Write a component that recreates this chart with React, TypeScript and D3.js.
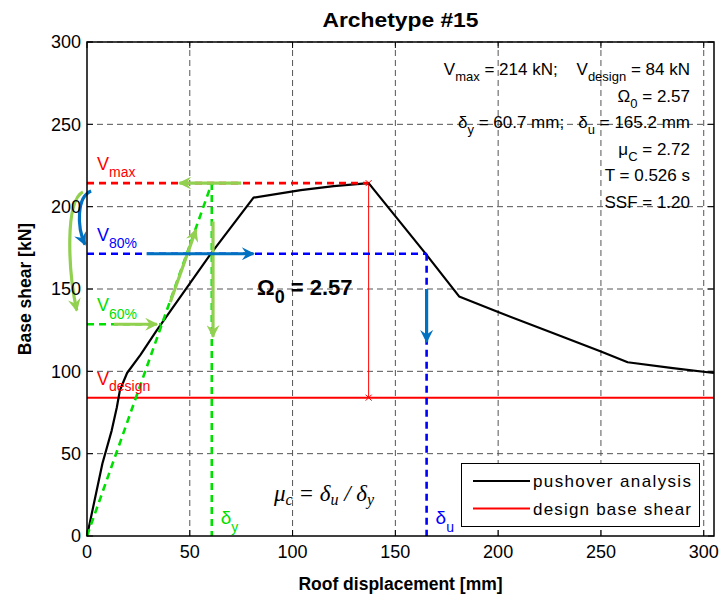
import React, { useRef, useEffect } from 'react';
import * as d3 from 'd3';

// pushover curve
const dispMm = [0, 7.5, 12, 14.5, 16, 19.5, 26, 34, 60, 81, 104, 120, 137, 165, 181, 200, 225, 250, 263, 285, 305];
const shearKn = [0, 44, 64, 78, 88.5, 99, 110, 125, 171, 205.5, 210, 212.5, 214.3, 171, 145.5, 136, 124, 112, 105.5, 102, 99];

const xTicks = [0, 50, 100, 150, 200, 250, 300];
const yTicks = [0, 50, 100, 150, 200, 250, 300];

const vMax = 214.3;
const vDesign = 84;
const v80 = 171.4;
const v60 = 128.6;
const deltaY = 60.7;
const deltaU = 165.2;
const xPeak = 137;

const legendNames = ['pushover analysis', 'design base shear'];
const legendColors = ['#000000', '#ff0000'];

const infoLines = [
  [['V', 0], ['max', 1], [' = 214 kN;    V', 0], ['design', 1], [' = 84 kN', 0]],
  [['\u03A9', 0], ['0', 1], [' = 2.57', 0]],
  [['\u03B4', 0], ['y', 1], [' = 60.7 mm;   \u03B4', 0], ['u', 1], [' = 165.2 mm', 0]],
  [['\u03BC', 0], ['C', 1], [' = 2.72', 0]],
  [['T = 0.526 s', 0]],
  [['SSF = 1.20', 0]],
];

// annotation arrows, in data units
const greenArrows = [
  [13, v60, 34, v60],
  [40.5, 142, 53, 186],
  [75, vMax, 45, vMax],
  [61.3, 191, 61.3, 121],
];
const blueArrows = [
  [29, v80, 81, v80],
  [deltaU, 150, deltaU, 118],
];

const GREEN_ARROW = '#92d050';
const BLUE_ARROW = '#0070c0';
const FONT = 'Liberation Sans, Arial, Helvetica, sans-serif';

const ChartComponent = () => {
  const svgRef = useRef<SVGSVGElement>(null);

  useEffect(() => {
    const width = 719;
    const height = 596;
    const margin = { top: 42, right: 5, bottom: 60, left: 87 };

    const svg = d3.select(svgRef.current)
      .attr('width', width)
      .attr('height', height);
    svg.selectAll('*').remove();

    const x = d3.scaleLinear().domain([0, 305]).range([margin.left, width - margin.right]);
    const y = d3.scaleLinear().domain([0, 300]).range([height - margin.bottom, margin.top]);

    const defs = svg.append('defs');
    const addMarker = (id: string, color: string) => {
      defs.append('marker')
        .attr('id', id)
        .attr('viewBox', '0 0 10 10')
        .attr('refX', 9)
        .attr('refY', 5)
        .attr('markerWidth', 15)
        .attr('markerHeight', 13)
        .attr('markerUnits', 'userSpaceOnUse')
        .attr('orient', 'auto')
        .append('path')
        .attr('d', 'M0,0 L10,5 L0,10 L3.5,5 Z')
        .attr('fill', color);
    };
    addMarker('headGreen', GREEN_ARROW);
    addMarker('headBlue', BLUE_ARROW);

    svg.append('rect').attr('width', width).attr('height', height).attr('fill', '#fff');

    // grid
    const grid = svg.append('g').attr('stroke', '#555').attr('stroke-width', 1).attr('stroke-dasharray', '6,4');
    xTicks.filter(t => t > 0).forEach(t => {
      grid.append('line').attr('x1', x(t)).attr('x2', x(t)).attr('y1', y(0)).attr('y2', y(300));
    });
    yTicks.filter(t => t > 0).forEach(t => {
      grid.append('line').attr('x1', x(0)).attr('x2', x(305)).attr('y1', y(t)).attr('y2', y(t));
    });

    // design base shear
    svg.append('line')
      .attr('x1', x(0)).attr('x2', x(305)).attr('y1', y(vDesign)).attr('y2', y(vDesign))
      .attr('stroke', '#ff0000').attr('stroke-width', 2);

    // overstrength marker line
    svg.append('line')
      .attr('x1', x(xPeak)).attr('x2', x(xPeak)).attr('y1', y(vMax)).attr('y2', y(vDesign))
      .attr('stroke', '#ff0000').attr('stroke-width', 1);
    [vMax, vDesign].forEach(v => {
      const cx = x(xPeak), cy = y(v);
      svg.append('path')
        .attr('d', `M${cx - 3},${cy - 3}L${cx + 3},${cy + 3}M${cx - 3},${cy + 3}L${cx + 3},${cy - 3}`)
        .attr('stroke', '#ff0000').attr('stroke-width', 1);
    });

    // pushover curve
    const line = d3.line<number>().x((d, i) => x(dispMm[i])).y(d => y(d));
    svg.append('path')
      .datum(shearKn)
      .attr('d', line)
      .attr('fill', 'none')
      .attr('stroke', '#000')
      .attr('stroke-width', 2.2)
      .attr('stroke-linejoin', 'round');

    // dashed construction lines
    const dashed = (x1: number, y1: number, x2: number, y2: number, color: string) => {
      svg.append('line')
        .attr('x1', x(x1)).attr('y1', y(y1)).attr('x2', x(x2)).attr('y2', y(y2))
        .attr('stroke', color).attr('stroke-width', 2.6).attr('stroke-dasharray', '7,5');
    };
    dashed(0, vMax, xPeak, vMax, '#ff0000');
    dashed(0, v80, deltaU, v80, '#0000ff');
    dashed(deltaU, v80, deltaU, 0, '#0000ff');
    dashed(0, v60, 36, v60, '#00e000');
    dashed(0, 0, deltaY, vMax, '#00e000');
    dashed(deltaY, vMax, deltaY, 0, '#00e000');

    // arrows
    const arrow = (a: number[], color: string, head: string) => {
      svg.append('line')
        .attr('x1', x(a[0])).attr('y1', y(a[1])).attr('x2', x(a[2])).attr('y2', y(a[3]))
        .attr('stroke', color).attr('stroke-width', 3.2)
        .attr('marker-end', `url(#${head})`);
    };
    greenArrows.forEach(a => arrow(a, GREEN_ARROW, 'headGreen'));
    blueArrows.forEach(a => arrow(a, BLUE_ARROW, 'headBlue'));

    const curve = (p: number[][], color: string, head: string) => {
      const path = d3.path();
      path.moveTo(x(p[0][0]), y(p[0][1]));
      path.bezierCurveTo(x(p[1][0]), y(p[1][1]), x(p[2][0]), y(p[2][1]), x(p[3][0]), y(p[3][1]));
      svg.append('path')
        .attr('d', path.toString())
        .attr('fill', 'none')
        .attr('stroke', color).attr('stroke-width', 3.2)
        .attr('marker-end', `url(#${head})`);
    };
    curve([[-2, 209], [-11, 203], [-9, 160], [-5, 137]], GREEN_ARROW, 'headGreen');
    curve([[2, 209.5], [-5, 206], [-5, 188], [-1, 177]], BLUE_ARROW, 'headBlue');

    // axes frame and ticks
    svg.append('rect')
      .attr('x', x(0)).attr('y', y(300))
      .attr('width', x(305) - x(0)).attr('height', y(0) - y(300))
      .attr('fill', 'none').attr('stroke', '#000').attr('stroke-width', 1.5);
    const ticks = svg.append('g').attr('stroke', '#000').attr('stroke-width', 1);
    xTicks.forEach(t => {
      ticks.append('line').attr('x1', x(t)).attr('x2', x(t)).attr('y1', y(0)).attr('y2', y(0) - 6);
      ticks.append('line').attr('x1', x(t)).attr('x2', x(t)).attr('y1', y(300)).attr('y2', y(300) + 6);
    });
    yTicks.forEach(t => {
      ticks.append('line').attr('x1', x(0)).attr('x2', x(0) + 6).attr('y1', y(t)).attr('y2', y(t));
      ticks.append('line').attr('x1', x(305)).attr('x2', x(305) - 6).attr('y1', y(t)).attr('y2', y(t));
    });

    const labels = svg.append('g').attr('font-family', FONT).attr('font-size', 18).attr('fill', '#000');
    xTicks.forEach(t => {
      labels.append('text').attr('x', x(t)).attr('y', y(0) + 22).attr('text-anchor', 'middle').text(t);
    });
    yTicks.forEach(t => {
      labels.append('text').attr('x', x(0) - 6).attr('y', y(t)).attr('dy', '0.35em').attr('text-anchor', 'end').text(t);
    });

    // titles
    svg.append('text')
      .attr('x', (x(0) + x(305)) / 2).attr('y', 27)
      .attr('text-anchor', 'middle').attr('font-family', FONT).attr('font-weight', 'bold').attr('font-size', 21)
      .attr('textLength', 156).attr('lengthAdjust', 'spacingAndGlyphs')
      .text('Archetype #15');
    svg.append('text')
      .attr('x', (x(0) + x(305)) / 2).attr('y', 590)
      .attr('text-anchor', 'middle').attr('font-family', FONT).attr('font-weight', 'bold').attr('font-size', 17.5)
      .text('Roof displacement [mm]');
    svg.append('text')
      .attr('transform', `translate(31,${(y(0) + y(300)) / 2}) rotate(-90)`)
      .attr('text-anchor', 'middle').attr('font-family', FONT).attr('font-weight', 'bold').attr('font-size', 17.5)
      .text('Base shear [kN]');

    // rich text helper: parts of [text, isSub]
    const rich = (px: number, py: number, parts: any[], opts: any) => {
      const t = svg.append('text')
        .attr('x', px).attr('y', py)
        .attr('font-family', opts.family || FONT)
        .attr('font-size', opts.size)
        .attr('fill', opts.color || '#000')
        .attr('text-anchor', opts.anchor || 'start')
        .style('white-space', 'pre');
      if (opts.weight) t.attr('font-weight', opts.weight);
      if (opts.italic) t.attr('font-style', 'italic');
      let shifted = 0;
      parts.forEach(([s, sub]) => {
        const target = sub ? opts.subShift : 0;
        const span = t.append('tspan').attr('dy', target - shifted).text(s);
        if (sub) span.attr('font-size', opts.subSize);
        shifted = target;
      });
      return t;
    };

    infoLines.forEach((parts, i) => {
      rich(690, 75 + i * 26.6, parts, { size: 17, subSize: 13, subShift: 6, anchor: 'end' });
    });

    rich(97, 170, [['V', 0], ['max', 1]], { size: 18, subSize: 14, subShift: 7, color: '#ff0000' });
    rich(97, 241, [['V', 0], ['80%', 1]], { size: 18, subSize: 14, subShift: 7, color: '#0000ff' });
    rich(97, 311, [['V', 0], ['60%', 1]], { size: 18, subSize: 14, subShift: 8, color: '#00e000' });
    rich(97, 385, [['V', 0], ['design', 1]], { size: 18, subSize: 14, subShift: 6, color: '#ff0000' });
    rich(x(deltaY) + 9, 524, [['\u03B4', 0], ['y', 1]], { size: 19, subSize: 14, subShift: 8, color: '#00e000' });
    rich(x(deltaU) + 9, 524, [['\u03B4', 0], ['u', 1]], { size: 19, subSize: 14, subShift: 8, color: '#0000ff' });

    rich(257, 295, [['\u03A9', 0], ['0', 1], [' = 2.57', 0]], { size: 22, subSize: 18, subShift: 8, weight: 'bold' });

    rich(274, 501, [['\u03BC', 0], ['c', 1], [' = \u03B4', 0], ['u', 1], [' / \u03B4', 0], ['y', 1]],
      { size: 23, subSize: 16, subShift: 4, italic: true, family: 'Liberation Serif, Times New Roman, serif' });

    // legend
    const lg = svg.append('g');
    lg.append('rect').attr('x', 461.5).attr('y', 463.5).attr('width', 238).attr('height', 63)
      .attr('fill', '#fff').attr('stroke', '#000').attr('stroke-width', 1);
    legendNames.forEach((name, i) => {
      const ly = 481 + i * 27.5;
      lg.append('line').attr('x1', 473).attr('x2', 530).attr('y1', ly).attr('y2', ly)
        .attr('stroke', legendColors[i]).attr('stroke-width', 2.2);
      lg.append('text').attr('x', 533).attr('y', ly + 6)
        .attr('font-family', FONT).attr('font-size', 17)
        .attr('textLength', 158).attr('lengthAdjust', 'spacing')
        .text(name);
    });
  }, []);

  return <svg ref={svgRef} style={{ position: 'absolute', left: 0, top: 0 }}></svg>;
};

export default ChartComponent;
